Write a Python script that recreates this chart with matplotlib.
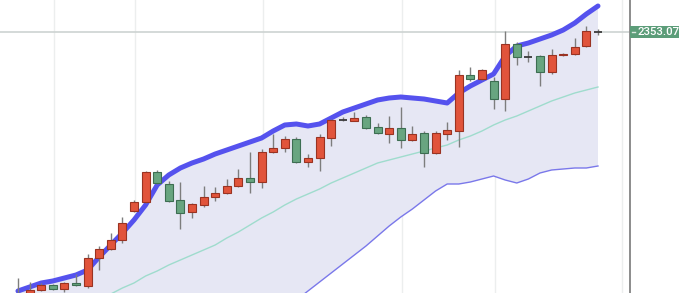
import matplotlib
matplotlib.use("Agg")
import matplotlib.pyplot as plt
import matplotlib.transforms as mtransforms
from matplotlib.patches import Rectangle

# ---- data (price units) ----
opens = [1821, 1825, 1837, 1847, 1839, 1851, 1845, 1901, 1919, 1937,
         1995, 2013, 2073, 2049, 2017, 1993, 2007, 2023, 2031, 2045,
         2061, 2053, 2113, 2121, 2139, 2093, 2101, 2141, 2177, 2175,
         2183, 2163, 2149, 2161, 2137, 2151, 2111, 2149, 2155, 2267,
         2259, 2255, 2219, 2329, 2303, 2305, 2273, 2307, 2309, 2325,
         2353.0]
highs = [1861, 1853, 1851, 1849, 1853, 1869, 1909, 1925, 1951, 1983,
         2017, 2075, 2077, 2055, 2053, 2011, 2045, 2043, 2059, 2079,
         2113, 2119, 2149, 2145, 2143, 2109, 2149, 2179, 2183, 2193,
         2187, 2171, 2185, 2203, 2165, 2155, 2155, 2173, 2277, 2283,
         2279, 2263, 2355, 2333, 2315, 2307, 2319, 2311, 2341, 2365,
         2359]
lows = [1817, 1821, 1835, 1837, 1833, 1845, 1841, 1877, 1917, 1931,
        1993, 2011, 2049, 2013, 1959, 1981, 2003, 2015, 2029, 2043,
        2031, 2041, 2111, 2113, 2091, 2083, 2075, 2125, 2175, 2175,
        2159, 2149, 2131, 2121, 2135, 2083, 2109, 2137, 2123, 2255,
        2257, 2199, 2195, 2287, 2293, 2245, 2269, 2305, 2307, 2323,
        2347]
closes = [1829, 1837, 1847, 1839, 1851, 1847, 1901, 1919, 1937, 1971,
          2013, 2073, 2051, 2015, 1991, 2009, 2023, 2031, 2045, 2061,
          2053, 2113, 2121, 2139, 2093, 2101, 2143, 2177, 2177, 2181,
          2161, 2151, 2161, 2137, 2149, 2111, 2151, 2157, 2267, 2259,
          2277, 2219, 2329, 2303, 2303, 2273, 2307, 2309, 2323, 2355,
          2353.07]
upper_band = [1835, 1843, 1851, 1855, 1861, 1867, 1877, 1903, 1927, 1951,
              1977, 2007, 2047, 2067, 2081, 2091, 2099, 2109, 2117, 2125,
              2133, 2141, 2155, 2167, 2169, 2165, 2169, 2181, 2193, 2201,
              2209, 2217, 2221, 2223, 2221, 2219, 2215, 2211, 2231, 2245,
              2257, 2269, 2305, 2325, 2331, 2339, 2347, 2357, 2371, 2389,
              2405]
middle_band = [1747, 1755, 1765, 1777, 1787, 1799, 1811, 1821, 1829, 1841,
               1851, 1865, 1875, 1887, 1897, 1907, 1917, 1927, 1941, 1953,
               1967, 1981, 1993, 2007, 2019, 2029, 2039, 2051, 2061, 2071,
               2081, 2091, 2097, 2103, 2109, 2115, 2121, 2127, 2137, 2145,
               2155, 2167, 2177, 2185, 2195, 2205, 2215, 2223, 2231, 2237,
               2243]
lower_band = [1659, 1667, 1679, 1699, 1713, 1731, 1745, 1739, 1731, 1731,
              1725, 1723, 1703, 1707, 1713, 1723, 1717, 1711, 1707, 1721,
              1737, 1757, 1777, 1797, 1817, 1835, 1853, 1871, 1889, 1907,
              1925, 1945, 1965, 1983, 1999, 2017, 2035, 2049, 2049, 2053,
              2059, 2065, 2057, 2051, 2059, 2071, 2077, 2079, 2081, 2081,
              2085]
date_ticks = [3, 10, 21, 33, 41, 52]   # session index of period starts
last_label = "2353.07"

# ---- style ----
UP_FILL, UP_EDGE = "#e1543b", "#9a3322"
DN_FILL, DN_EDGE = "#68a580", "#3d6e52"
WICK = "#7d7d7d"

W, H, DPI = 679, 293, 100
fig = plt.figure(figsize=(W / DPI, H / DPI), dpi=DPI)
ax = fig.add_axes([0, 0, 630 / W, 1])

n = len(closes)
xs = list(range(n))

ax.set_xlim(-1.55, 52.76)
ax.set_ylim(1831, 2417)

# grid
for t in date_ticks:
    ax.axvline(t + 0.1, color="#eceeee", lw=1.0, zorder=0)
ax.axhline(closes[-1], color="#cdd3d2", lw=1.2, zorder=1)

# bands
ax.fill_between(xs, lower_band, upper_band, color="#e6e7f4", lw=0, zorder=1)
ax.plot(xs, middle_band, color="#9fdccd", lw=1.0, zorder=2)
ax.plot(xs, lower_band, color="#7a78ea", lw=1.0, zorder=2)
ax.plot(xs, upper_band, color="#5552ee", lw=3.6, zorder=2,
        solid_capstyle="round", solid_joinstyle="round")

# candles
bw = 0.68
for i in range(n):
    o, h, l, c = opens[i], highs[i], lows[i], closes[i]
    ax.vlines(i, l, h, color=WICK, lw=1.0, zorder=3)
    if abs(c - o) < 0.5:
        ax.hlines(c, i - bw / 2, i + bw / 2, color="#3a3a3a", lw=1.3, zorder=4)
        continue
    up = c > o
    ax.bar(i, abs(c - o), bottom=min(o, c), width=bw,
           color=UP_FILL if up else DN_FILL,
           edgecolor=UP_EDGE if up else DN_EDGE, linewidth=0.8, zorder=4)

# axes cosmetics
for s in ("left", "top", "bottom"):
    ax.spines[s].set_visible(False)
ax.spines["right"].set_color("#8c8c8c")
ax.spines["right"].set_linewidth(1.4)
ax.set_xticks([])
ax.set_yticks([])

# last price label
tr = mtransforms.blended_transform_factory(ax.transAxes, ax.transData)
ax.add_patch(Rectangle((1.0, closes[-1] - 12.5), 52 / 630, 25,
                       transform=tr, facecolor="#5c9d79", edgecolor="none",
                       clip_on=False, zorder=5))
ax.plot([1.003, 1.008], [closes[-1], closes[-1]], transform=tr,
        color="#d8e8de", lw=1.0, clip_on=False, zorder=6)
ax.text(637 / 630, closes[-1], last_label, transform=tr, ha="left",
        va="center", color="white", fontsize=8.2, family="Roboto",
        fontweight="medium", zorder=7, clip_on=False)

fig.savefig("out.png", dpi=DPI)
